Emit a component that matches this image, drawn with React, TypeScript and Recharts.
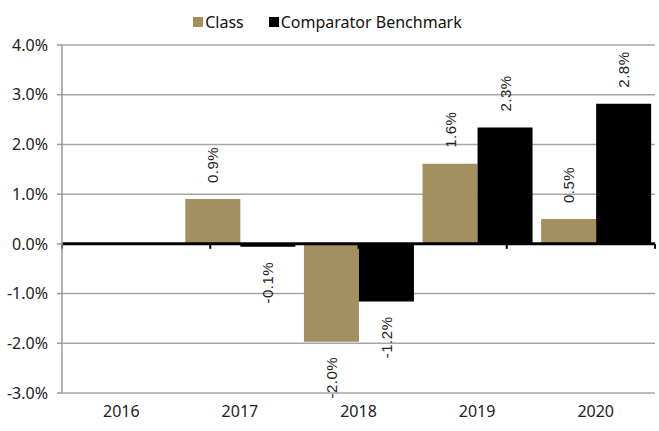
import React from 'react';
import { BarChart, Bar, XAxis, YAxis, CartesianGrid, Legend, ReferenceLine, LabelList } from 'recharts';

const years = ['2016', '2017', '2018', '2019', '2020'];
const classReturns = [null, 0.9, -1.97, 1.61, 0.5];
const benchmarkReturns = [null, -0.06, -1.16, 2.34, 2.82];
const yTicks = [-3, -2, -1, 0, 1, 2, 3, 4];
const boundaries = [0, 1, 2, 3, 4, 5];

const data = years.map((year, i) => ({
  year,
  cls: classReturns[i],
  bench: benchmarkReturns[i],
}));

const GOLD = '#a38f5f';
const FONT = '"Noto Sans", "Open Sans", sans-serif';

const BarLabel = (props: any) => {
  const { x, y, width, height, value } = props;
  if (value === null || value === undefined) return null;
  const top = Math.min(y, y + height);
  const bottom = Math.max(y, y + height);
  const cx = x + width / 2;
  const pos = value >= 0;
  const ly = pos ? top - 16 : bottom + 15;
  return (
    <text
      x={cx}
      y={ly}
      transform={`rotate(-90, ${cx}, ${ly})`}
      textAnchor={pos ? 'start' : 'end'}
      dominantBaseline="central"
      fontFamily='"Liberation Sans", Arial, sans-serif'
      fontSize={15}
      letterSpacing={0.5}
      fill="#222"
    >
      {`${value.toFixed(1)}%`}
    </text>
  );
};

const YearTick = (props: any) => {
  const { x, y, payload } = props;
  return (
    <text x={x} y={y} dy={16} textAnchor="middle" fontFamily={FONT} fontSize={16} fill="#222">
      {payload.value}
    </text>
  );
};

const LegendContent = () => (
  <div style={{ display: 'flex', justifyContent: 'center', height: 37, paddingTop: 3, fontFamily: FONT, fontSize: 16, color: '#111', boxSizing: 'border-box' }}>
    {[{ name: 'Class', color: GOLD }, { name: 'Comparator Benchmark', color: '#000' }].map((item, i) => (
      <div key={item.name} style={{ display: 'flex', alignItems: 'center', marginLeft: i ? 25 : 0, height: 22 }}>
        <span style={{ width: 10, height: 10, background: item.color, display: 'inline-block', marginRight: 2 }} />
        <span>{item.name}</span>
      </div>
    ))}
  </div>
);

export default function App() {
  return (
    <div style={{ position: 'absolute', left: 0, top: 0, width: 659, height: 431, background: '#fff' }}>
      <BarChart
        width={659}
        height={431}
        data={data}
        margin={{ top: 8, right: 4, bottom: 0, left: 0 }}
        barCategoryGap="4%"
        barGap={0}
      >
        <CartesianGrid vertical={false} stroke="#a6a6a6" strokeWidth={1.5} />
        <XAxis
          dataKey="year"
          axisLine={false}
          tickLine={false}
          tick={<YearTick />}
          height={38}
          interval={0}
        />
        <XAxis xAxisId="bounds" type="number" domain={[0, 5]} hide />
        <YAxis
          domain={[-3, 4]}
          ticks={yTicks}
          width={62}
          tickFormatter={(v: number) => `${v.toFixed(1)}%`}
          axisLine={{ stroke: '#999', strokeWidth: 1.5 }}
          tickLine={{ stroke: '#999', strokeWidth: 1.5 }}
          tickSize={5}
          tickMargin={9}
          tick={{ fontFamily: FONT, fontSize: 16, fill: '#222' }}
          interval={0}
        />
        <Legend verticalAlign="top" content={<LegendContent />} />
        <Bar dataKey="cls" name="Class" fill={GOLD} isAnimationActive={false}>
          <LabelList dataKey="cls" content={<BarLabel />} />
        </Bar>
        <Bar dataKey="bench" name="Comparator Benchmark" fill="#000" isAnimationActive={false}>
          <LabelList dataKey="bench" content={<BarLabel />} />
        </Bar>
        <ReferenceLine y={0} stroke="#000" strokeWidth={3} />
        {boundaries.map((b) => (
          <ReferenceLine
            key={b}
            xAxisId="bounds"
            segment={[{ x: b, y: 0 }, { x: b, y: -0.1 }]}
            stroke="#000"
            strokeWidth={2}
          />
        ))}
      </BarChart>
    </div>
  );
}
